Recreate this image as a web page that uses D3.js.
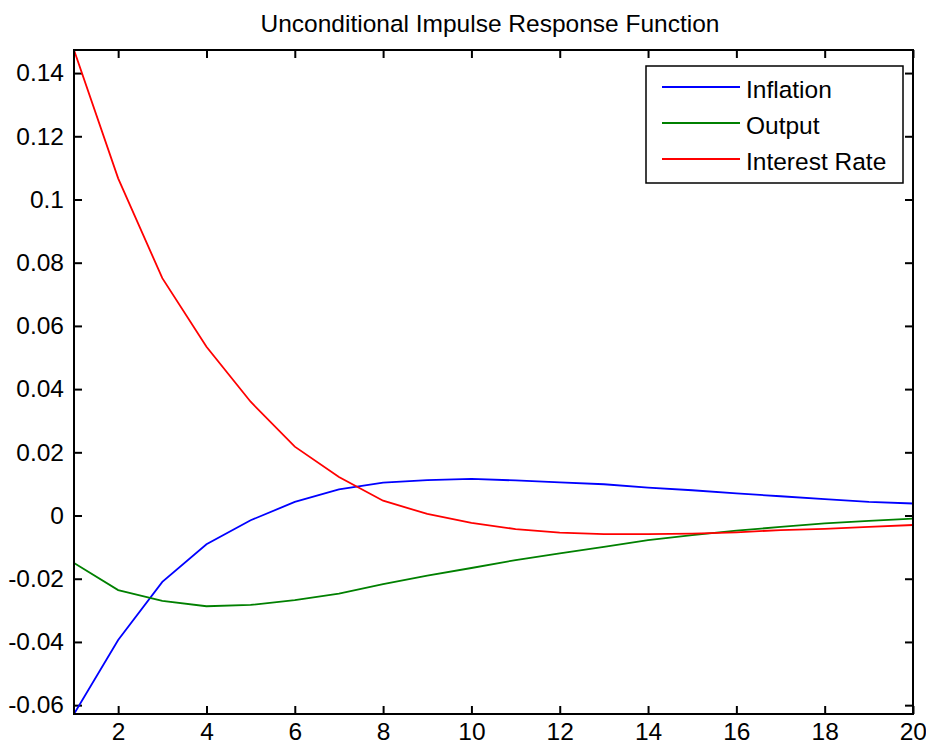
<!DOCTYPE html>
<html><head><meta charset="utf-8">
<script src="https://cdn.jsdelivr.net/npm/d3@7"></script>
<style>body{margin:0;background:#fff}svg{display:block}text{font-family:"Liberation Sans",Arial,sans-serif;fill:#000}</style>
</head><body><svg id="c" width="926" height="747"></svg>
<script>
const periods = [1,2,3,4,5,6,7,8,9,10,11,12,13,14,15,16,17,18,19,20];
const inflation = [-0.0628,-0.0394,-0.0210,-0.0091,-0.0015,0.0043,0.0083,0.0104,0.0112,0.0116,0.0111,0.0105,0.0099,0.0088,0.0080,0.0070,0.0061,0.0052,0.0043,0.0038];
const output = [-0.0150,-0.0236,-0.0270,-0.0287,-0.0283,-0.0268,-0.0247,-0.0217,-0.0190,-0.0166,-0.0141,-0.0120,-0.0099,-0.0078,-0.0062,-0.0048,-0.0036,-0.0025,-0.0017,-0.0010];
const interest = [0.1473,0.1067,0.0751,0.0534,0.0360,0.0218,0.0122,0.0047,0.0005,-0.0023,-0.0043,-0.0054,-0.0059,-0.0059,-0.0057,-0.0053,-0.0046,-0.0042,-0.0036,-0.0030];
const seriesNames = ["Inflation","Output","Interest Rate"];
const seriesColors = ["#0000ff","#008000","#ff0000"];
const xTicks = [2,4,6,8,10,12,14,16,18,20];
const yTicks = [-0.06,-0.04,-0.02,0,0.02,0.04,0.06,0.08,0.1,0.12,0.14];
const title = "Unconditional Impulse Response Function";

const svg = d3.select("#c");
const L=74,R=913,T=50,B=714;
const x = d3.scaleLinear().domain([1,20]).range([L,R]);
const y = d3.scaleLinear().domain([-0.0628,0.1473]).range([B,T]);
const fmt = d => d===0 ? "0" : String(+d.toFixed(2));
const fs = 24.5, tl = 8;

svg.append("text").attr("x",490).attr("y",32).attr("text-anchor","middle").attr("font-size",fs).text(title);

const gx = svg.append("g").attr("transform",`translate(0,${B})`)
  .call(d3.axisBottom(x).tickValues(xTicks).tickSizeInner(-tl).tickSizeOuter(0).tickPadding(9).tickFormat(d3.format("d")));
const gxt = svg.append("g").attr("transform",`translate(0,${T})`)
  .call(d3.axisTop(x).tickValues(xTicks).tickSizeInner(-tl).tickSizeOuter(0).tickFormat(""));
const gy = svg.append("g").attr("transform",`translate(${L},0)`)
  .call(d3.axisLeft(y).tickValues(yTicks).tickSizeInner(-tl).tickSizeOuter(0).tickPadding(10).tickFormat(fmt));
const gyr = svg.append("g").attr("transform",`translate(${R},0)`)
  .call(d3.axisRight(y).tickValues(yTicks).tickSizeInner(-tl).tickSizeOuter(0).tickFormat(""));
[gx,gxt,gy,gyr].forEach(g=>{
  g.select(".domain").remove();
  g.selectAll(".tick line").attr("stroke","#000").attr("stroke-width",2);
  g.selectAll(".tick text").attr("font-size",fs).attr("font-family","Liberation Sans, Arial, sans-serif").attr("fill","#000");
});
gx.selectAll(".tick text").attr("dy","0.71em");
gx.selectAll(".tick").filter(d=>d===20).select("text").attr("text-anchor","end").attr("dx","0.55em");

const lineGen = vals => d3.line().x((d,i)=>x(periods[i])).y(d=>y(d))(vals);
const data = [inflation, output, interest];
svg.append("clipPath").attr("id","clp").append("rect").attr("x",L).attr("y",T-1).attr("width",R-L).attr("height",B-T+2);
data.forEach((vals,k)=>{
  svg.append("path").attr("d",lineGen(vals)).attr("fill","none").attr("stroke",seriesColors[k]).attr("stroke-width",1.8).attr("clip-path","url(#clp)");
});

svg.append("rect").attr("x",L).attr("y",T).attr("width",R-L).attr("height",B-T).attr("fill","none").attr("stroke","#000").attr("stroke-width",2);

const lg = svg.append("g");
lg.append("rect").attr("x",646).attr("y",66).attr("width",257).attr("height",117).attr("fill","#fff").attr("stroke","#000").attr("stroke-width",1.5);
seriesNames.forEach((n,k)=>{
  const yy = 87 + k*36;
  lg.append("line").attr("x1",662).attr("x2",740).attr("y1",yy).attr("y2",yy).attr("stroke",seriesColors[k]).attr("stroke-width",1.8);
  lg.append("text").attr("x",746).attr("y",yy+10.5).attr("font-size",fs).text(n);
});
</script></body></html>
